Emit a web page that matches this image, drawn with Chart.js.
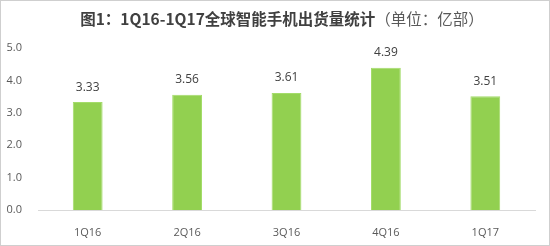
<!DOCTYPE html>
<html lang="zh">
<head>
    <meta charset="UTF-8">
    <title>1Q16-1Q17全球智能手机出货量统计</title>
    <script src="https://cdn.jsdelivr.net/npm/chart.js"></script>
    <style>
        body {
            margin: 0;
            background: #fff;
        }
        .wrap {
            position: relative;
            width: 550px;
            height: 246px;
        }
        #chart {
            position: absolute;
            left: 0;
            top: 0;
        }
        .title {
            position: absolute;
            top: 7px;
            left: 0;
            width: 564px;
            text-align: center;
            font-family: "Noto Sans CJK SC", sans-serif;
            font-size: 15.5px;
            line-height: 22px;
            color: #404040;
            white-space: nowrap;
        }
        .title b { font-weight: bold; }
        .title span { font-weight: normal; color: #595959; }
        .frame {
            position: absolute;
            left: 0; top: 0; right: 0; bottom: 0;
            border: 1px solid #cfcfcf;
            pointer-events: none;
        }
    </style>
</head>
<body>
    <div class="wrap">
        <canvas id="chart" width="550" height="246"></canvas>
        <div class="title"><b>图1：1Q16-1Q17全球智能手机出货量统计</b><span>（单位：亿部）</span></div>
        <div class="frame"></div>
    </div>
    <script>
        // 数据
        const quarters = ['1Q16', '2Q16', '3Q16', '4Q16', '1Q17'];
        const shipments = [3.33, 3.56, 3.61, 4.39, 3.51];
        const yTicks = [0, 1, 2, 3, 4, 5];

        // 柱子上方的数值标签
        const valueLabels = {
            id: 'valueLabels',
            afterDatasetsDraw(chart) {
                const ctx = chart.ctx;
                const meta = chart.getDatasetMeta(0);
                ctx.save();
                ctx.fillStyle = '#404040';
                ctx.font = '12px "Open Sans", sans-serif';
                ctx.textAlign = 'center';
                ctx.textBaseline = 'middle';
                meta.data.forEach((bar, i) => {
                    ctx.fillText(shipments[i].toFixed(2), bar.x, bar.y - 15);
                });
                ctx.restore();
            }
        };

        new Chart(document.getElementById('chart'), {
            type: 'bar',
            data: {
                labels: quarters,
                datasets: [{
                    data: shipments,
                    backgroundColor: '#92D050',
                    borderColor: '#a4dc6a',
                    borderWidth: 1,
                    barPercentage: 0.3,
                    categoryPercentage: 1
                }]
            },
            options: {
                responsive: false,
                animation: false,
                layout: { padding: { top: 48, right: 15, bottom: 0, left: 0 } },
                plugins: {
                    legend: { display: false },
                    tooltip: { enabled: false }
                },
                scales: {
                    x: {
                        grid: { display: false },
                        border: { display: true, color: '#d9d9d9', width: 1 },
                        ticks: {
                            color: '#595959',
                            font: { family: '"Open Sans", sans-serif', size: 11 },
                            padding: 8
                        },
                        afterFit(scale) { scale.height = 36; }
                    },
                    y: {
                        min: 0,
                        max: 5,
                        grid: { display: false },
                        border: { display: false },
                        afterBuildTicks(scale) {
                            scale.ticks = yTicks.map(v => ({ value: v }));
                        },
                        ticks: {
                            color: '#595959',
                            font: { family: '"Open Sans", sans-serif', size: 11 },
                            padding: 8,
                            callback: v => v.toFixed(1)
                        },
                        afterFit(scale) { scale.width = 38; }
                    }
                }
            },
            plugins: [valueLabels]
        });
    </script>
</body>
</html>
